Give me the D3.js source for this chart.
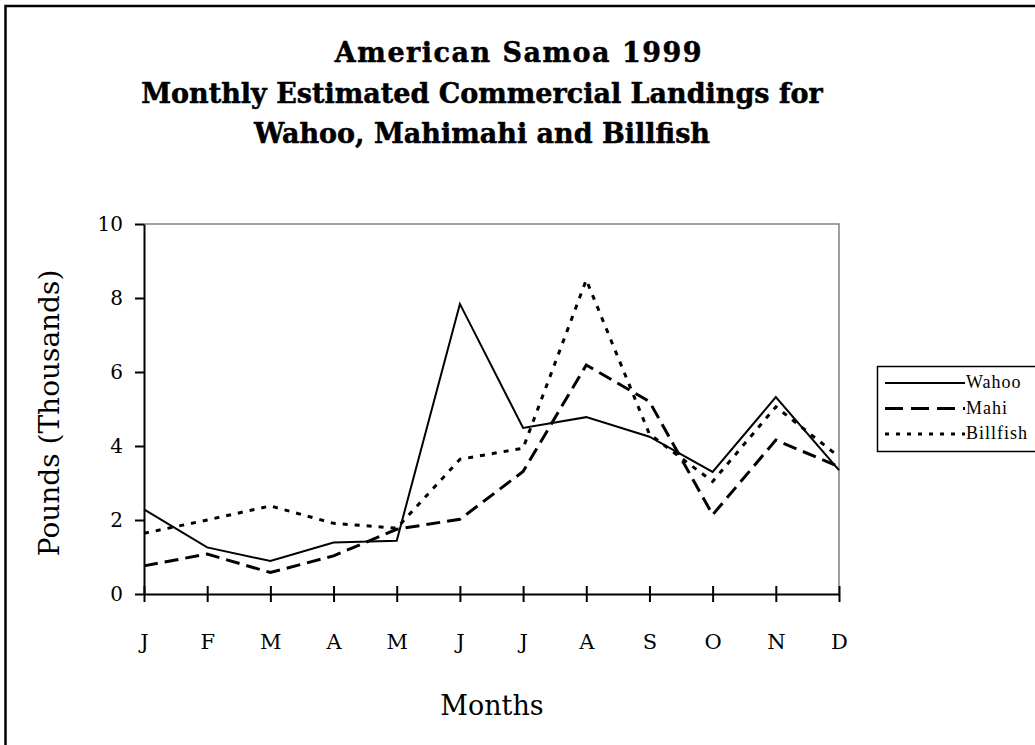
<!DOCTYPE html>
<html lang="en">
<head>
    <meta charset="UTF-8">
    <title>American Samoa 1999</title>
    <script src="https://cdn.jsdelivr.net/npm/d3@7"></script>
    <style>
        body { margin: 0; background: #fff; }
        svg { display: block; }
    </style>
</head>
<body>
    <svg></svg>
    <script>
        // data (thousands of pounds)
        let months = ["J", "F", "M", "A", "M", "J", "J", "A", "S", "O", "N", "D"];
        let wahoo = [2.29, 1.26, 0.89, 1.39, 1.44, 7.84, 4.49, 4.78, 4.25, 3.30, 5.32, 3.35];
        let mahi = [0.76, 1.08, 0.58, 1.03, 1.75, 2.02, 3.31, 6.19, 5.20, 2.14, 4.16, 3.44];
        let billfish = [1.64, 2.00, 2.38, 1.91, 1.78, 3.64, 3.94, 8.49, 4.32, 3.04, 5.06, 3.71];
        let yTicks = [0, 2, 4, 6, 8, 10];
        let titleLines = ["American Samoa 1999", "Monthly Estimated Commercial Landings for", "Wahoo, Mahimahi and Billfish"];

        let width = 1035, height = 745;
        let plot = {left: 144, right: 839, top: 224, bottom: 594};

        let svg = d3.select("svg")
            .attr("width", width)
            .attr("height", height);

        // outer frame (only left and top show)
        svg.append("rect")
            .attr("x", 5.5).attr("y", 6)
            .attr("width", 1100).attr("height", 800)
            .attr("fill", "none")
            .attr("stroke", "#000")
            .attr("stroke-width", 2.5);

        // title
        svg.append("text")
            .attr("text-anchor", "middle")
            .attr("font-family", "DejaVu Serif")
            .attr("font-weight", "bold")
            .attr("font-size", 27)
            .attr("stroke", "#000")
            .attr("stroke-width", 0.5)
            .selectAll("tspan")
            .data(titleLines)
            .enter()
            .append("tspan")
            .attr("x", (d, i) => i === 0 ? 519 : 482)
            .attr("y", (d, i) => 62 + i * 40.5)
            .attr("letter-spacing", (d, i) => i === 0 ? 1.5 : 0)
            .text(d => d);

        let x = d3.scalePoint()
            .domain(d3.range(months.length))
            .range([plot.left, plot.right]);

        let y = d3.scaleLinear()
            .domain([0, 10])
            .range([plot.bottom, plot.top]);

        // grey top and right edge of plot area
        svg.append("path")
            .attr("d", `M${plot.left},${plot.top}H${plot.right}V${plot.bottom}`)
            .attr("fill", "none")
            .attr("stroke", "#808080")
            .attr("stroke-width", 1.5);

        // y axis
        let yAxis = svg.append("g")
            .attr("transform", `translate(${plot.left},0)`)
            .call(d3.axisLeft(y).tickValues(yTicks).tickSize(9).tickPadding(12).tickSizeOuter(0));
        yAxis.select(".domain").attr("stroke-width", 2);
        yAxis.selectAll("line").attr("stroke-width", 2);
        yAxis.selectAll("text")
            .attr("font-family", "DejaVu Serif")
            .attr("font-size", 20)
            .attr("fill", "#000");

        // x axis, ticks cross the line
        let xAxis = svg.append("g")
            .attr("transform", `translate(0,${plot.bottom})`)
            .call(d3.axisBottom(x).tickFormat(i => months[i]).tickSize(8).tickPadding(32).tickSizeOuter(0));
        xAxis.select(".domain").attr("stroke-width", 2);
        xAxis.selectAll("line").attr("y1", -8).attr("stroke-width", 2);
        xAxis.selectAll("text")
            .attr("font-family", "DejaVu Serif")
            .attr("font-size", 21)
            .attr("fill", "#000");

        // axis titles
        svg.append("text")
            .attr("transform", `translate(59,413) rotate(-90)`)
            .attr("text-anchor", "middle")
            .attr("font-family", "DejaVu Serif")
            .attr("font-size", 28)
            .text("Pounds (Thousands)");

        svg.append("text")
            .attr("x", 492)
            .attr("y", 715)
            .attr("text-anchor", "middle")
            .attr("font-family", "DejaVu Serif")
            .attr("font-size", 27)
            .text("Months");

        // series lines
        let series = [
            {name: "Wahoo", values: wahoo, dash: null, w: 2},
            {name: "Mahi", values: mahi, dash: "14,7", w: 3},
            {name: "Billfish", values: billfish, dash: "5,7", w: 3}
        ];

        let line = d3.line()
            .x((d, i) => x(i))
            .y(d => y(d));

        svg.selectAll("path.series")
            .data(series)
            .enter()
            .append("path")
            .attr("class", "series")
            .attr("d", d => line(d.values))
            .attr("fill", "none")
            .attr("stroke", "#000")
            .attr("stroke-width", d => d.w)
            .attr("stroke-dasharray", d => d.dash);

        // legend
        let legend = svg.append("g");
        legend.append("rect")
            .attr("x", 877.5).attr("y", 366.5)
            .attr("width", 200).attr("height", 85)
            .attr("fill", "#fff")
            .attr("stroke", "#000")
            .attr("stroke-width", 1.5);

        let item = legend.selectAll("g.item")
            .data(series)
            .enter()
            .append("g")
            .attr("transform", (d, i) => `translate(0,${383 + i * 25.5})`);

        item.append("line")
            .attr("x1", 885).attr("x2", 965)
            .attr("stroke", "#000")
            .attr("stroke-width", d => d.w)
            .attr("stroke-dasharray", d => d.dash ? (d.name === "Mahi" ? "18,8" : "4,7") : null);

        item.append("text")
            .attr("x", 966)
            .attr("y", 5)
            .attr("font-family", "Liberation Serif")
            .attr("font-size", 18)
            .attr("letter-spacing", 1)
            .text(d => d.name);
    </script>
</body>
</html>
